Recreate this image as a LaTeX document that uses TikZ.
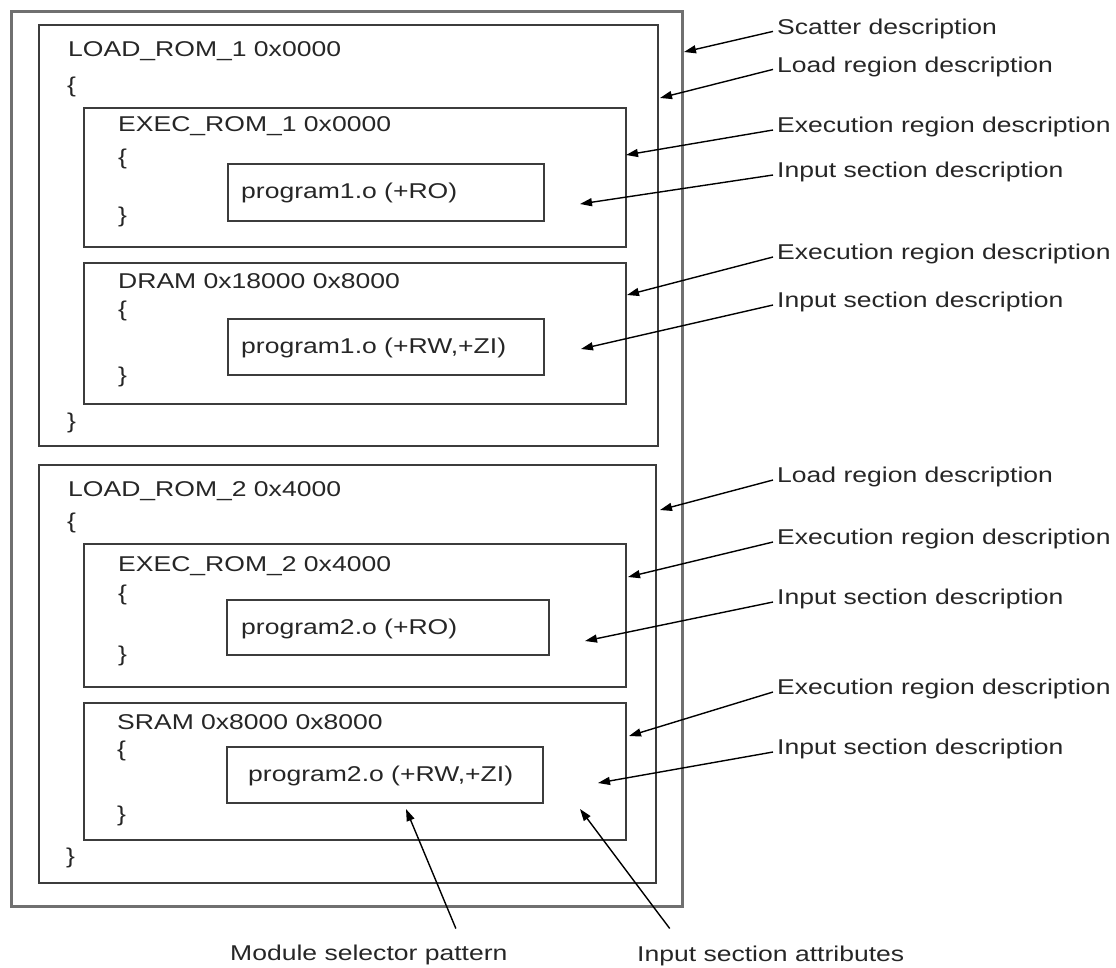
\documentclass[tikz,border=0pt]{standalone}
\usepackage{fontspec}
\setmainfont{Liberation Sans}[FakeStretch=1.24]
\usetikzlibrary{arrows.meta}

\definecolor{framegray}{HTML}{707070}
\definecolor{boxgray}{HTML}{3C3C3C}
\definecolor{inkgray}{HTML}{262626}

\begin{document}
\begin{tikzpicture}[x=1pt,y=-1pt,
  every node/.style={font=\fontsize{21.4}{25}\selectfont, text=inkgray},
  scatterframe/.style={draw=framegray, line width=2.6pt, inner sep=0pt, anchor=north west},
  region/.style={draw=boxgray, line width=2pt, inner sep=0pt, anchor=north west},
  code/.style={inner sep=0pt, anchor=base west},
  callout/.style={inner ysep=0pt, inner xsep=4pt, anchor=base west,
                  text height=15.3pt, text depth=10.1pt},
  footnote/.style={inner sep=0pt, anchor=base west, text height=15.3pt, text depth=0pt},
  pointer/.style={draw=black, line width=1.4pt, -{Triangle[length=12pt,width=8pt]}},
]
\useasboundingbox (0,0) rectangle (1116,967);

% ---- nested region boxes ----
\node[scatterframe, minimum width=671pt, minimum height=895pt] (scatter) at (10,10) {};
\node[region, minimum width=619pt, minimum height=421pt] (load1) at (38,24) {};
\node[region, minimum width=542pt, minimum height=139pt] (exec1) at (83,107) {};
\node[region, minimum width=316pt, minimum height=57pt]  (sec1)  at (227,163) {};
\node[region, minimum width=542pt, minimum height=141pt] (dram)  at (83,262) {};
\node[region, minimum width=316pt, minimum height=56pt]  (sec2)  at (227,318) {};
\node[region, minimum width=617pt, minimum height=418pt] (load2) at (38,464) {};
\node[region, minimum width=542pt, minimum height=143pt] (exec2) at (83,543) {};
\node[region, minimum width=322pt, minimum height=55pt]  (sec3)  at (226,599) {};
\node[region, minimum width=542pt, minimum height=137pt] (sram)  at (83,702) {};
\node[region, minimum width=316pt, minimum height=56pt]  (sec4)  at (226,746) {};

% ---- scatter file text ----
\node[code] (l1name)  at (68,56.7)  {LOAD\_ROM\_1 0x0000};
\node[code] (l1open)  at (67,92.5)  {\{};
\node[code] (e1name)  at (118,131.7) {EXEC\_ROM\_1 0x0000};
\node[code] (e1open)  at (118,164.5) {\{};
\node[code] (e1close) at (118,222.5) {\}};
\node[code] (s1text)  at (241,198)  {program1.o (+RO)};
\node[code] (drname)  at (118,288)  {DRAM 0x18000 0x8000};
\node[code] (dropen)  at (118,316)  {\{};
\node[code] (drclose) at (118,382)  {\}};
\node[code] (s2text)  at (241,353)  {program1.o (+RW,+ZI)};
\node[code] (l1close) at (67,428.5) {\}};
\node[code] (l2name)  at (68,496)   {LOAD\_ROM\_2 0x4000};
\node[code] (l2open)  at (67,528.6) {\{};
\node[code] (e2name)  at (118,571)  {EXEC\_ROM\_2 0x4000};
\node[code] (e2open)  at (118,600)  {\{};
\node[code] (e2close) at (118,661)  {\}};
\node[code] (s3text)  at (241,634)  {program2.o (+RO)};
\node[code] (srname)  at (117,729.3) {SRAM 0x8000 0x8000};
\node[code] (sropen)  at (117,756)  {\{};
\node[code] (srclose) at (117,821)  {\}};
\node[code] (s4text)  at (248,781.7) {program2.o (+RW,+ZI)};
\node[code] (l2close) at (66,863.5) {\}};

% ---- callout labels ----
\node[callout] (c1)  at (773,34)    {Scatter description};
\node[callout] (c2)  at (773,72)    {Load region description};
\node[callout] (c3)  at (773,132.6) {Execution region description};
\node[callout] (c4)  at (773,177.6) {Input section description};
\node[callout] (c5)  at (773,259.6) {Execution region description};
\node[callout] (c6)  at (773,307.6) {Input section description};
\node[callout] (c7)  at (773,482.6) {Load region description};
\node[callout] (c8)  at (773,544.6) {Execution region description};
\node[callout] (c9)  at (773,604.6) {Input section description};
\node[callout] (c10) at (773,694.6) {Execution region description};
\node[callout] (c11) at (773,754.6) {Input section description};
\node[footnote] (modsel) at (230,960) {Module selector pattern};
\node[footnote] (attrs)  at (637,961) {Input section attributes};

% ---- arrow targets ----
\coordinate (t1)  at (684,52);
\coordinate (t2)  at (660,98);
\coordinate (t3)  at (626,155);
\coordinate (t4)  at (580,204);
\coordinate (t5)  at (627,295);
\coordinate (t6)  at (581,349);
\coordinate (t7)  at (660,510);
\coordinate (t8)  at (628,577);
\coordinate (t9)  at (585,641);
\coordinate (t10) at (629,736);
\coordinate (t11) at (598,783);
\coordinate (tmod)  at (406,809);
\coordinate (tattr) at (580,809);

% ---- arrows ----
\foreach \i in {1,...,11} {
  \draw[pointer] (c\i.west) -- (t\i);
}
\draw[pointer] ([xshift=87pt,yshift=16pt]modsel.north) -- (tmod);
\draw[pointer] ([xshift=-101pt,yshift=17pt]attrs.north) -- (tattr);
\end{tikzpicture}
\end{document}
